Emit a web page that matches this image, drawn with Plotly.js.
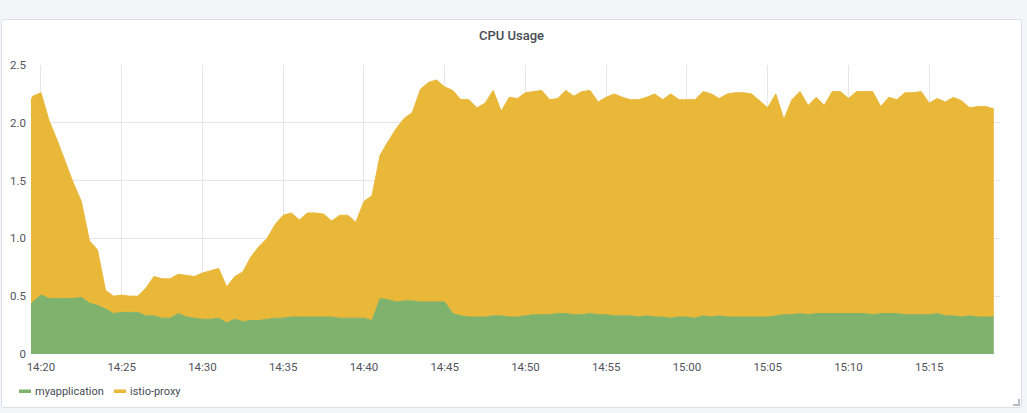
<!DOCTYPE html>
<html>
<head>
<meta charset="utf-8">
<script src="https://cdn.plot.ly/plotly-3.0.1.min.js"></script>
<style>
  html, body { margin: 0; padding: 0; background: #f4f5f8; width: 1027px; height: 413px; overflow: hidden; }
  #panel { position: absolute; left: 1px; top: 19px; width: 1019px; height: 387px; background: #ffffff;
           border: 1px solid #dcdfe5; border-radius: 3px; }
  #chart { position: absolute; left: 0; top: 0; width: 1027px; height: 413px; }
  #handle { position: absolute; left: 1013px; top: 399px; width: 5px; height: 5px;
            border-right: 2px solid #b8bcc4; border-bottom: 2px solid #b8bcc4; }
</style>
</head>
<body>
<div id="panel"></div>
<div id="handle"></div>
<div id="chart"></div>
<script>
// ---- data ----
const chartTitle = 'CPU Usage';
const seriesNames = ['myapplication', 'istio-proxy'];
const seriesColors = ['#7eb26d', '#eab839'];

const firstSampleTime = '2024-01-01 14:19:23';
const sampleStartTime = '2024-01-01 14:19:30';
const sampleStepSeconds = 30;

const myapplication = [
  0.43,0.45,0.51,0.48,0.48,0.48,0.48,0.49,0.44,0.42,
  0.39,0.35,0.36,0.36,0.36,0.33,0.33,0.31,0.31,0.35,
  0.32,0.31,0.30,0.30,0.31,0.27,0.30,0.28,0.29,0.29,
  0.30,0.31,0.31,0.32,0.32,0.32,0.32,0.32,0.32,0.31,
  0.31,0.31,0.31,0.29,0.48,0.47,0.45,0.46,0.46,0.45,
  0.45,0.45,0.45,0.35,0.33,0.32,0.32,0.32,0.33,0.33,
  0.32,0.32,0.33,0.34,0.34,0.34,0.35,0.35,0.34,0.34,
  0.35,0.34,0.34,0.33,0.33,0.33,0.32,0.33,0.32,0.32,
  0.31,0.32,0.32,0.31,0.33,0.32,0.33,0.32,0.32,0.32,
  0.32,0.32,0.32,0.33,0.34,0.34,0.35,0.34,0.35,0.35,
  0.35,0.35,0.35,0.35,0.35,0.34,0.35,0.35,0.35,0.34,
  0.34,0.34,0.34,0.35,0.33,0.33,0.32,0.33,0.32,0.32,
  0.32
];

const istioProxy = [
  1.77,1.78,1.75,1.54,1.37,1.18,1.00,0.83,0.54,0.48,
  0.16,0.15,0.15,0.14,0.14,0.24,0.34,0.34,0.34,0.34,
  0.36,0.36,0.40,0.42,0.43,0.31,0.37,0.43,0.55,0.64,
  0.70,0.81,0.89,0.90,0.84,0.90,0.90,0.89,0.83,0.89,
  0.89,0.83,1.01,1.08,1.24,1.37,1.50,1.58,1.63,1.84,
  1.90,1.92,1.86,1.93,1.87,1.88,1.81,1.85,1.95,1.77,
  1.90,1.89,1.93,1.93,1.94,1.86,1.86,1.93,1.89,1.93,
  1.93,1.84,1.88,1.92,1.89,1.87,1.88,1.89,1.93,1.88,
  1.94,1.88,1.88,1.89,1.94,1.93,1.88,1.93,1.94,1.94,
  1.93,1.87,1.81,1.92,1.69,1.86,1.92,1.81,1.87,1.80,
  1.92,1.92,1.86,1.92,1.92,1.93,1.79,1.87,1.85,1.92,
  1.92,1.93,1.83,1.86,1.85,1.89,1.87,1.80,1.82,1.82,
  1.80
];

const xRange = ['2024-01-01 14:19:23', '2024-01-01 15:19:23'];
const xTick0 = '2024-01-01 14:20:00';
const yTickVals = [0, 0.5, 1.0, 1.5, 2.0, 2.5];
const yTickText = ['0', '0.5', '1.0', '1.5', '2.0', '2.5'];

// ---- timestamps (regular 30 s sampling) ----
function pad(n) { return (n < 10 ? '0' : '') + n; }
function addSeconds(str, s) {
  const [d, t] = str.split(' ');
  const [h, m, sec] = t.split(':').map(Number);
  let tot = h * 3600 + m * 60 + sec + s;
  return d + ' ' + pad(Math.floor(tot / 3600)) + ':' + pad(Math.floor((tot % 3600) / 60)) + ':' + pad(tot % 60);
}
const times = [firstSampleTime];
for (let k = 0; k < myapplication.length - 1; k++) times.push(addSeconds(sampleStartTime, k * sampleStepSeconds));

const series = [myapplication, istioProxy];
const traces = series.map((vals, i) => ({
  type: 'scatter', mode: 'lines', x: times, y: vals, name: seriesNames[i],
  stackgroup: 'one', line: { color: seriesColors[i], width: 1 }, fillcolor: seriesColors[i],
  hoverinfo: 'skip'
}));

const font = 'Roboto, "Open Sans", sans-serif';
const legendX = [2, 97];
const swatchX = [[-12, 0], [83, 95]];

const layout = {
  width: 1027, height: 413,
  margin: { l: 31, r: 27, t: 65, b: 59 },
  paper_bgcolor: 'rgba(0,0,0,0)', plot_bgcolor: 'rgba(0,0,0,0)',
  showlegend: false,
  title: { text: chartTitle, x: 511.5 / 1027, xref: 'container', xanchor: 'center',
           y: 1 - 35 / 413, yref: 'container', yanchor: 'middle',
           font: { family: font, size: 13, color: '#464c54', weight: 500 } },
  xaxis: {
    type: 'date', range: xRange, tick0: xTick0, dtick: 300000, tickformat: '%H:%M',
    showgrid: true, gridcolor: '#e6e6e9', gridwidth: 1, zeroline: false, showline: false,
    ticks: '', ticklabelstandoff: 4,
    tickfont: { family: font, size: 11.5, color: '#52545c' }, fixedrange: true
  },
  yaxis: {
    range: [0, 2.5], tickmode: 'array', tickvals: yTickVals, ticktext: yTickText,
    showgrid: true, gridcolor: '#e6e6e9', gridwidth: 1, zeroline: false, showline: false,
    ticks: '', ticklabelstandoff: 4,
    tickfont: { family: font, size: 11.5, color: '#52545c' }, fixedrange: true
  },
  annotations: seriesNames.map((n, i) => ({
    text: n, xref: 'paper', yref: 'paper', x: 0, y: 0, xanchor: 'left', yanchor: 'middle',
    xshift: legendX[i], yshift: -37, showarrow: false,
    font: { family: font, size: 11, color: '#464c54' }
  })),
  shapes: seriesNames.map((n, i) => ({
    type: 'rect', xref: 'paper', yref: 'paper', xsizemode: 'pixel', ysizemode: 'pixel',
    xanchor: 0, yanchor: 0, x0: swatchX[i][0], x1: swatchX[i][1], y0: -39, y1: -35.5,
    fillcolor: seriesColors[i], line: { width: 0 }
  }))
};

Plotly.newPlot('chart', traces, layout, { displayModeBar: false, staticPlot: true });
</script>
</body>
</html>
